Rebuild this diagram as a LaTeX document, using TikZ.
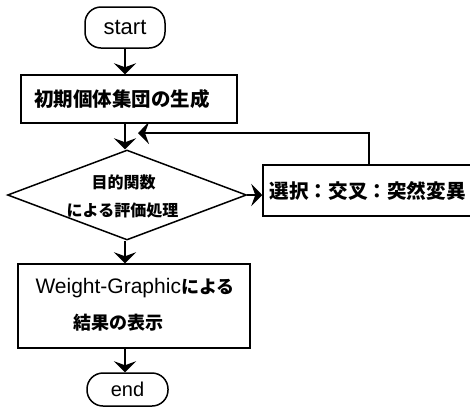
\documentclass[tikz,border=0pt]{standalone}
\usepackage{fontspec}
\setmainfont{Liberation Sans}
\newfontfamily\jp{Noto Sans CJK JP}
\usetikzlibrary{shapes.geometric,arrows.meta}
\begin{document}
\begin{tikzpicture}[x=1pt,y=-1pt, line width=1.5pt,
  box/.style={draw, rectangle, inner sep=0pt},
  term/.style={draw, rectangle, rounded corners=16pt, inner sep=0pt},
  dec/.style={draw, diamond, inner sep=0pt},
  arr/.style={-{Stealth[length=11pt,width=22pt,inset=4pt]}},
  lbl/.style={inner sep=0pt, anchor=center}]
\clip (0,0) rectangle (470,416);
% shapes
\node[term, minimum width=80pt, minimum height=41pt] (start) at (125,27.5) {\fontsize{22}{24}\selectfont start};
\node[box, minimum width=216pt, minimum height=48pt] (init) at (129,99) {};
\node[lbl] (tinit) at (122,99) {\jp\bfseries\fontsize{19.5}{22}\selectfont 初期個体集団の生成};
\node[dec, minimum width=239pt, minimum height=90pt] (dec) at (127,195) {};
\node[lbl] (tdec1) at (123.5,182) {\jp\bfseries\fontsize{16}{18}\selectfont 目的関数};
\node[lbl] (tdec2) at (122.5,210) {\jp\bfseries\fontsize{16}{18}\selectfont による評価処理};
\node[box, minimum width=215pt, minimum height=51pt] (sel) at (370.5,190.5) {};
\node[lbl, anchor=west] (tsel) at (269,190.5) {\jp\bfseries\fontsize{19.6}{22}\selectfont 選択：交叉：突然変異};
\node[box, minimum width=232pt, minimum height=84pt] (res) at (134,306) {};
\node[lbl] (tres1) at (135,288) {\fontsize{21}{24}\selectfont Weight-Graphic{\jp\bfseries\fontsize{18}{20}\selectfont による}};
\node[lbl, anchor=west] (tres2) at (73,323) {\jp\bfseries\fontsize{18}{20}\selectfont 結果の表示};
\node[term, minimum width=81pt, minimum height=33pt] (end) at (127.5,389.5) {\fontsize{20}{24}\selectfont end};
% connectors
\coordinate (fbturn) at (369,133);
\coordinate (fbend) at (138,133);
\draw[arr] (start.south) -- (start.south |- init.north);
\draw[arr] (start.south |- init.south) -- (start.south |- dec.north);
\draw[arr] (dec.east) -- (sel.west |- dec.east);
\draw[arr] (sel.north -| fbturn) -- (fbturn) -- (fbend);
\draw[arr] (start.south |- dec.south) -- (start.south |- res.north);
\draw[arr] (start.south |- res.south) -- (start.south |- end.north);
\end{tikzpicture}
\end{document}
